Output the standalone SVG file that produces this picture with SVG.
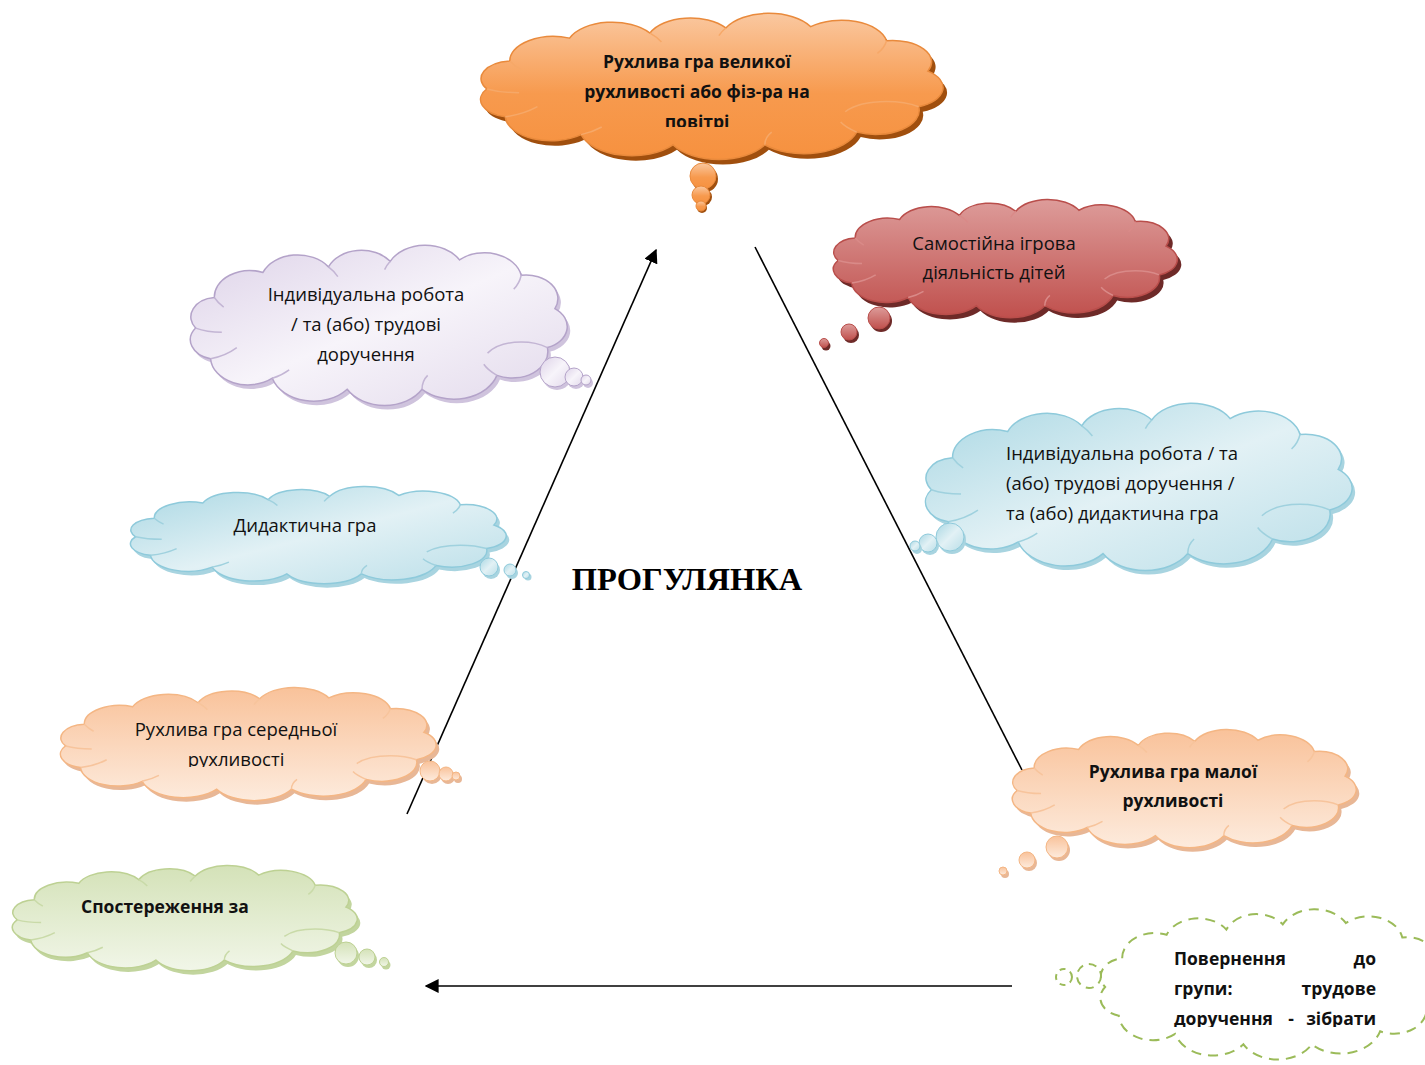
<svg xmlns="http://www.w3.org/2000/svg" width="1425" height="1065" viewBox="0 0 1425 1065">
<style>
.t{font-family:"Open Sans","Noto Sans","Liberation Sans",sans-serif;font-size:18.5px;fill:#111}
.b{font-weight:bold;font-size:17.5px}
.c{text-anchor:middle}
.e{text-anchor:end}
.ln{stroke:#000;stroke-width:1.6;fill:none}
</style>
<defs>
<symbol id="cloud" viewBox="1 -7 202 115" preserveAspectRatio="none" overflow="visible">
<path vector-effect="non-scaling-stroke" d="M14 30 A19 19 0 0 1 40 12 A20 20 0 0 1 75 8 A19 19 0 0 1 108 4 A21 21 0 0 1 145 3 A20 20 0 0 1 178 14 A17 17 0 0 1 196 38 A16 16 0 0 1 192 66 A19 19 0 0 1 165 86 A24 24 0 0 1 125 96 A23 23 0 0 1 85 96 A23 23 0 0 1 45 88 A20 20 0 0 1 12 74 A14 14 0 0 1 4 52 A14 14 0 0 1 14 30 Z"/>
</symbol>
<symbol id="inner" viewBox="1 -7 202 115" preserveAspectRatio="none" overflow="visible">
<g fill="none">
<path vector-effect="non-scaling-stroke" d="M12 74 Q20 72 26 66"/>
<path vector-effect="non-scaling-stroke" d="M4 52 Q10 55 18 55"/>
<path vector-effect="non-scaling-stroke" d="M14 30 Q16 34 19 37"/>
<path vector-effect="non-scaling-stroke" d="M75 8 Q78 11 80 15"/>
<path vector-effect="non-scaling-stroke" d="M108 4 Q106 7 105 10"/>
<path vector-effect="non-scaling-stroke" d="M178 14 Q177 20 174 24"/>
<path vector-effect="non-scaling-stroke" d="M192 66 Q186 62 178 62 Q166 62 160 70"/>
<path vector-effect="non-scaling-stroke" d="M165 86 Q160 82 158 78"/>
<path vector-effect="non-scaling-stroke" d="M125 96 Q125 90 128 86"/>
<path vector-effect="non-scaling-stroke" d="M45 88 Q50 86 54 82"/>
</g>
</symbol>
<linearGradient id="gO" x1="0" y1="0" x2="0" y2="1"><stop offset="0" stop-color="#fac8a0"/><stop offset="0.55" stop-color="#f79a4e"/><stop offset="1" stop-color="#f6913f"/></linearGradient>
<linearGradient id="gR" x1="0" y1="0" x2="0" y2="1"><stop offset="0" stop-color="#dd9c9a"/><stop offset="1" stop-color="#c0504d"/></linearGradient>
<linearGradient id="gP" x1="0" y1="0" x2="1" y2="1"><stop offset="0" stop-color="#ddd2e8"/><stop offset="0.5" stop-color="#f7f4fa"/><stop offset="1" stop-color="#e2d9eb"/></linearGradient>
<linearGradient id="gB" x1="0" y1="0" x2="1" y2="1"><stop offset="0" stop-color="#a9d7e3"/><stop offset="0.5" stop-color="#e2f1f5"/><stop offset="1" stop-color="#b9dee8"/></linearGradient>
<linearGradient id="gA" x1="0" y1="0" x2="0" y2="1"><stop offset="0" stop-color="#f9c29a"/><stop offset="1" stop-color="#fdebdd"/></linearGradient>
<linearGradient id="gG" x1="0" y1="0" x2="0" y2="1"><stop offset="0" stop-color="#d4e2b8"/><stop offset="1" stop-color="#f1f6e8"/></linearGradient>
<marker id="arr2" viewBox="0 0 10 10" refX="9" refY="5" markerWidth="14" markerHeight="14" markerUnits="userSpaceOnUse" orient="auto"><path d="M0 0 L10 5 L0 10 Z" fill="#000"/></marker>
<clipPath id="cO"><rect x="480" y="40" width="460" height="87"/></clipPath>
<clipPath id="cA"><rect x="60" y="710" width="380" height="57"/></clipPath>
<clipPath id="cD"><rect x="1160" y="940" width="240" height="87"/></clipPath>
</defs>

<g id="connectors">
<line class="ln" x1="407" y1="814" x2="656" y2="250" marker-end="url(#arr2)"/>
<line class="ln" x1="755" y1="247" x2="1022" y2="770"/>
<line class="ln" x1="1012" y1="986" x2="426" y2="986" marker-end="url(#arr2)"/>
</g>

<g id="n-orange">
<use href="#cloud" x="484" y="19" width="464" height="146" fill="#a04f0e"/>
<use href="#cloud" x="480" y="14" width="464" height="146" fill="url(#gO)" stroke="#e98a3c" stroke-width="1.5"/>
<use href="#inner" x="480" y="14" width="464" height="146" stroke="#f6a868" stroke-width="1.5"/>
<circle cx="705" cy="179" r="13" fill="#a04f0e"/><circle cx="703" cy="176" r="13" fill="url(#gO)" stroke="#e98a3c"/>
<circle cx="703" cy="197" r="9" fill="#a04f0e"/><circle cx="701" cy="195" r="9" fill="url(#gO)" stroke="#e98a3c"/>
<circle cx="702" cy="208" r="5" fill="#a04f0e"/><circle cx="701" cy="206" r="5" fill="url(#gO)" stroke="#e98a3c"/>
<g clip-path="url(#cO)">
<text class="t b c" x="697" y="68">Рухлива гра великої</text>
<text class="t b c" x="697" y="98">рухливості або фіз-ра на</text>
<text class="t b c" x="697" y="128">повітрі</text>
</g>
</g>

<g id="n-red">
<use href="#cloud" x="837" y="205" width="345" height="118" fill="#6e2a28"/>
<use href="#cloud" x="833" y="200" width="345" height="118" fill="url(#gR)" stroke="#b94e4b" stroke-width="1.5"/>
<use href="#inner" x="833" y="200" width="345" height="118" stroke="#d98a88" stroke-width="1.5"/>
<circle cx="881" cy="321" r="11" fill="#6e2a28"/><circle cx="879" cy="318" r="11" fill="url(#gR)" stroke="#b94e4b"/>
<circle cx="851" cy="335" r="8" fill="#6e2a28"/><circle cx="849" cy="332" r="8" fill="url(#gR)" stroke="#b94e4b"/>
<circle cx="826" cy="346" r="4.5" fill="#6e2a28"/><circle cx="824" cy="343" r="4.5" fill="url(#gR)" stroke="#b94e4b"/>
<text class="t c" x="994" y="250">Самостійна ігрова</text>
<text class="t c" x="994" y="279">діяльність дітей</text>
</g>

<g id="n-purple">
<use href="#cloud" x="193" y="250" width="378" height="160" fill="#cfc3dd"/>
<use href="#cloud" x="190" y="246" width="378" height="160" fill="url(#gP)" stroke="#b4a3c9" stroke-width="1.5"/>
<use href="#inner" x="190" y="246" width="378" height="160" stroke="#c3b5d4" stroke-width="1.5"/>
<circle cx="557" cy="375" r="15" fill="#cfc3dd"/><circle cx="555" cy="372" r="15" fill="url(#gP)" stroke="#b4a3c9"/>
<circle cx="576" cy="380" r="9" fill="#cfc3dd"/><circle cx="574" cy="377" r="9" fill="url(#gP)" stroke="#b4a3c9"/>
<circle cx="588" cy="383" r="5" fill="#cfc3dd"/><circle cx="586" cy="380" r="5" fill="url(#gP)" stroke="#b4a3c9"/>
<text class="t c" x="366" y="301">Індивідуальна робота</text>
<text class="t c" x="366" y="331">/ та (або) трудові</text>
<text class="t c" x="366" y="361">доручення</text>
</g>

<g id="n-blue-left">
<use href="#cloud" x="133" y="491" width="377" height="97" fill="#a8d4e0"/>
<use href="#cloud" x="130" y="487" width="377" height="97" fill="url(#gB)" stroke="#8ecadb" stroke-width="1.5"/>
<use href="#inner" x="130" y="487" width="377" height="97" stroke="#9fd1de" stroke-width="1.5"/>
<circle cx="491" cy="570" r="9" fill="#a8d4e0"/><circle cx="489" cy="567" r="9" fill="url(#gB)" stroke="#8ecadb"/>
<circle cx="512" cy="573" r="6" fill="#a8d4e0"/><circle cx="510" cy="570" r="6" fill="url(#gB)" stroke="#8ecadb"/>
<circle cx="528" cy="577" r="3.5" fill="#a8d4e0"/><circle cx="526" cy="575" r="3.5" fill="url(#gB)" stroke="#8ecadb"/>
<text class="t c" x="305" y="532">Дидактична гра</text>
</g>

<g id="n-blue-right">
<use href="#cloud" x="928" y="408" width="428" height="167" fill="#a8d4e0"/>
<use href="#cloud" x="925" y="404" width="428" height="167" fill="url(#gB)" stroke="#8ecadb" stroke-width="1.5"/>
<use href="#inner" x="925" y="404" width="428" height="167" stroke="#9fd1de" stroke-width="1.5"/>
<circle cx="952" cy="540" r="14" fill="#a8d4e0"/><circle cx="950" cy="537" r="14" fill="url(#gB)" stroke="#8ecadb"/>
<circle cx="930" cy="546" r="9" fill="#a8d4e0"/><circle cx="928" cy="543" r="9" fill="url(#gB)" stroke="#8ecadb"/>
<circle cx="917" cy="549" r="5" fill="#a8d4e0"/><circle cx="915" cy="546" r="5" fill="url(#gB)" stroke="#8ecadb"/>
<text class="t" x="1006" y="460">Індивідуальна робота / та</text>
<text class="t" x="1006" y="490">(або) трудові доручення /</text>
<text class="t" x="1006" y="520">та (або) дидактична гра</text>
</g>

<g id="n-peach-left">
<use href="#cloud" x="63" y="692" width="377" height="113" fill="#e8b796"/>
<use href="#cloud" x="60" y="688" width="377" height="113" fill="url(#gA)" stroke="#f4b684" stroke-width="1.5"/>
<use href="#inner" x="60" y="688" width="377" height="113" stroke="#f7c49c" stroke-width="1.5"/>
<circle cx="432" cy="774" r="10" fill="#e8b796"/><circle cx="430" cy="771" r="10" fill="url(#gA)" stroke="#f4b684"/>
<circle cx="448" cy="777" r="7" fill="#e8b796"/><circle cx="446" cy="774" r="7" fill="url(#gA)" stroke="#f4b684"/>
<circle cx="458" cy="779" r="4" fill="#e8b796"/><circle cx="456" cy="776" r="4" fill="url(#gA)" stroke="#f4b684"/>
<g clip-path="url(#cA)">
<text class="t c" x="236" y="736">Рухлива гра середньої</text>
<text class="t c" x="236" y="766">рухливості</text>
</g>
</g>

<g id="n-peach-right">
<use href="#cloud" x="1015" y="734" width="345" height="118" fill="#e8b796"/>
<use href="#cloud" x="1012" y="730" width="345" height="118" fill="url(#gA)" stroke="#f4b684" stroke-width="1.5"/>
<use href="#inner" x="1012" y="730" width="345" height="118" stroke="#f7c49c" stroke-width="1.5"/>
<circle cx="1059" cy="850" r="11" fill="#e8b796"/><circle cx="1057" cy="847" r="11" fill="url(#gA)" stroke="#f4b684"/>
<circle cx="1029" cy="863" r="8" fill="#e8b796"/><circle cx="1027" cy="860" r="8" fill="url(#gA)" stroke="#f4b684"/>
<circle cx="1005" cy="874" r="4" fill="#e8b796"/><circle cx="1003" cy="871" r="4" fill="url(#gA)" stroke="#f4b684"/>
<text class="t b c" x="1173" y="778">Рухлива гра малої</text>
<text class="t b c" x="1173" y="807">рухливості</text>
</g>

<g id="n-green">
<use href="#cloud" x="15" y="870" width="346" height="105" fill="#c2d59e"/>
<use href="#cloud" x="12" y="866" width="346" height="105" fill="url(#gG)" stroke="#bdd193" stroke-width="1.5"/>
<use href="#inner" x="12" y="866" width="346" height="105" stroke="#c9daa8" stroke-width="1.5"/>
<circle cx="348" cy="956" r="11" fill="#c2d59e"/><circle cx="346" cy="953" r="11" fill="url(#gG)" stroke="#bdd193"/>
<circle cx="369" cy="960" r="8" fill="#c2d59e"/><circle cx="367" cy="957" r="8" fill="url(#gG)" stroke="#bdd193"/>
<circle cx="386" cy="965" r="4.5" fill="#c2d59e"/><circle cx="384" cy="962" r="4.5" fill="url(#gG)" stroke="#bdd193"/>
<text class="t b" x="81" y="913">Спостереження за</text>
</g>

<g id="n-dashed">
<use href="#cloud" x="1100" y="910" width="345" height="150" fill="#fff" stroke="#9bbb59" stroke-width="2" stroke-dasharray="10 7"/>
<circle cx="1089" cy="976" r="12" fill="#fff" stroke="#9bbb59" stroke-width="2" stroke-dasharray="8 6"/>
<circle cx="1064" cy="977" r="8" fill="#fff" stroke="#9bbb59" stroke-width="2" stroke-dasharray="6 5"/>
<g clip-path="url(#cD)">
<text class="t b" x="1174" y="965">Повернення</text>
<text class="t b e" x="1376" y="965">до</text>
<text class="t b" x="1174" y="995">групи:</text>
<text class="t b e" x="1376" y="995">трудове</text>
<text class="t b" x="1174" y="1025">доручення</text>
<text class="t b c" x="1291" y="1025">-</text>
<text class="t b e" x="1376" y="1025">зібрати</text>
</g>
</g>

<text x="687" y="590" font-family="'Liberation Serif','Times New Roman',serif" font-size="32.5" font-weight="bold" text-anchor="middle" fill="#000">ПРОГУЛЯНКА</text>
</svg>
